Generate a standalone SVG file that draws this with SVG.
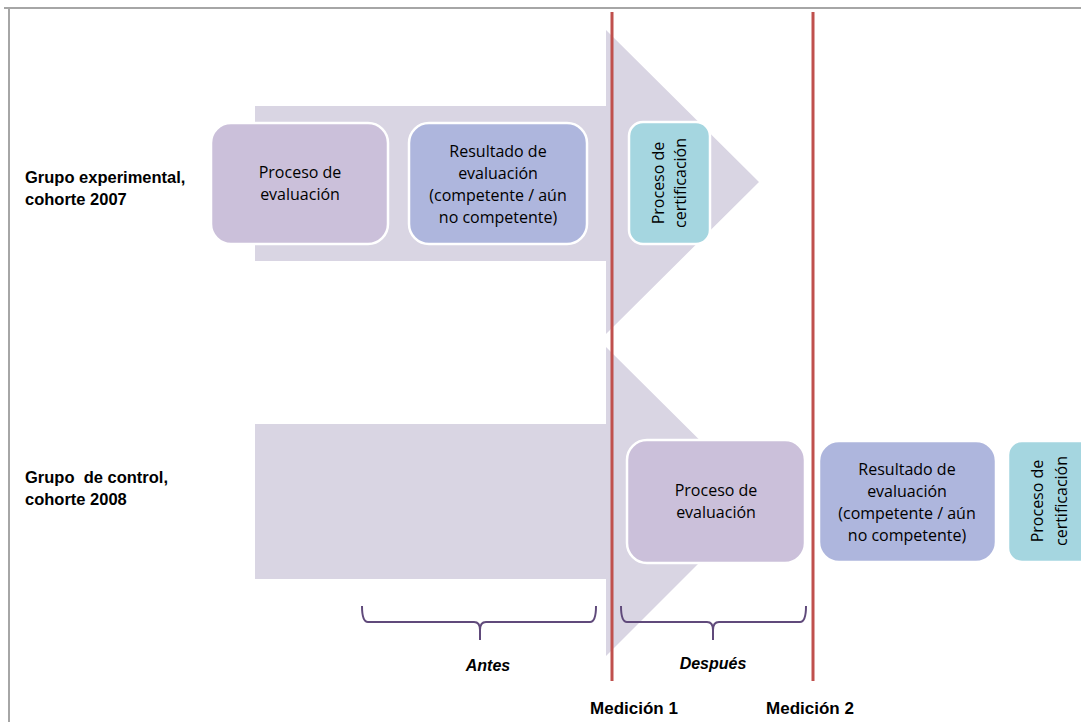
<svg xmlns="http://www.w3.org/2000/svg" width="1081" height="722" viewBox="0 0 1081 722">
<style>
.arrow{fill:#d9d5e3}
.box{stroke:#ffffff;stroke-width:2.5}
.b1{fill:#cbc0da}
.b2{fill:#aeb6dd}
.b3{fill:#a5d6e0}
.t{font-family:"Open Sans","Liberation Sans",sans-serif;font-size:16px;fill:#000;text-anchor:middle}
.lab{font-family:"Liberation Sans",Arial,sans-serif;font-size:16.5px;font-weight:bold;fill:#000}
.red{stroke:#c0504d;stroke-width:3}
.brace{fill:none;stroke:#604a7b;stroke-width:2}
.it{font-family:"Liberation Sans",Arial,sans-serif;font-size:16px;font-weight:bold;font-style:italic;text-anchor:middle}
.med{font-family:"Liberation Sans",Arial,sans-serif;font-size:17px;font-weight:bold;text-anchor:middle}
</style>
<rect width="1081" height="722" fill="#ffffff"/>
<g id="frame" fill="none" stroke="#a6a6a6" stroke-width="2">
<line x1="4" y1="8" x2="1081" y2="8"/>
<line x1="9" y1="8" x2="9" y2="722"/>
</g>
<g id="arrow1"><polygon class="arrow" points="255,106 606,106 606,30 759,182 606,334 606,261 255,261"/></g>
<g id="arrow2"><polygon class="arrow" points="255,424 606,424 606,347 761,501 606,656 606,579 255,579"/></g>
<g id="labels">
<text class="lab" x="25" y="183">Grupo experimental,</text>
<text class="lab" x="25" y="205">cohorte 2007</text>
<text class="lab" x="25" y="483" xml:space="preserve">Grupo  de control,</text>
<text class="lab" x="25" y="505">cohorte 2008</text>
</g>
<g id="n1">
<rect class="box b1" x="211" y="123" width="177" height="121" rx="20"/>
<text class="t" x="300" y="178">Proceso de</text>
<text class="t" x="300" y="200">evaluación</text>
</g>
<g id="n2">
<rect class="box b2" x="409" y="123" width="178" height="121" rx="20"/>
<text class="t" x="498" y="157">Resultado de</text>
<text class="t" x="498" y="179">evaluación</text>
<text class="t" x="498" y="201">(competente / aún</text>
<text class="t" x="498" y="223">no competente)</text>
</g>
<g id="n3">
<rect class="box b3" x="629" y="122" width="81" height="122" rx="14"/>
<text class="t" transform="translate(664,183) rotate(-90)">Proceso de</text>
<text class="t" transform="translate(686,183) rotate(-90)">certificación</text>
</g>
<g id="n4">
<rect class="box b1" x="627" y="440" width="178" height="123" rx="20"/>
<text class="t" x="716" y="496">Proceso de</text>
<text class="t" x="716" y="518">evaluación</text>
</g>
<g id="n5">
<rect class="box b2" x="819" y="441" width="177" height="121" rx="20"/>
<text class="t" x="907" y="475">Resultado de</text>
<text class="t" x="907" y="497">evaluación</text>
<text class="t" x="907" y="519">(competente / aún</text>
<text class="t" x="907" y="541">no competente)</text>
</g>
<g id="n6">
<rect class="box b3" x="1008" y="441" width="90" height="121" rx="14"/>
<text class="t" transform="translate(1043,501) rotate(-90)">Proceso de</text>
<text class="t" transform="translate(1067,501) rotate(-90)">certificación</text>
</g>
<g id="connectors">
<line class="red" x1="612" y1="12" x2="612" y2="681"/>
<line class="red" x1="813" y1="12" x2="813" y2="681"/>
<path class="brace" d="M362,606 Q362,622 368,622 L474,622 Q480,622 480,630 L480,640 M480,630 Q480,622 486,622 L590,622 Q596,622 596,606"/>
<path class="brace" d="M621,606 Q621,622 627,622 L707,622 Q713,622 713,630 L713,640 M713,630 Q713,622 719,622 L800,622 Q806,622 806,606"/>
</g>
<g id="bottom-labels">
<text class="it" x="488" y="671">Antes</text>
<text class="it" x="713" y="669">Después</text>
<text class="med" x="634" y="714">Medición 1</text>
<text class="med" x="810" y="714">Medición 2</text>
</g>
</svg>
